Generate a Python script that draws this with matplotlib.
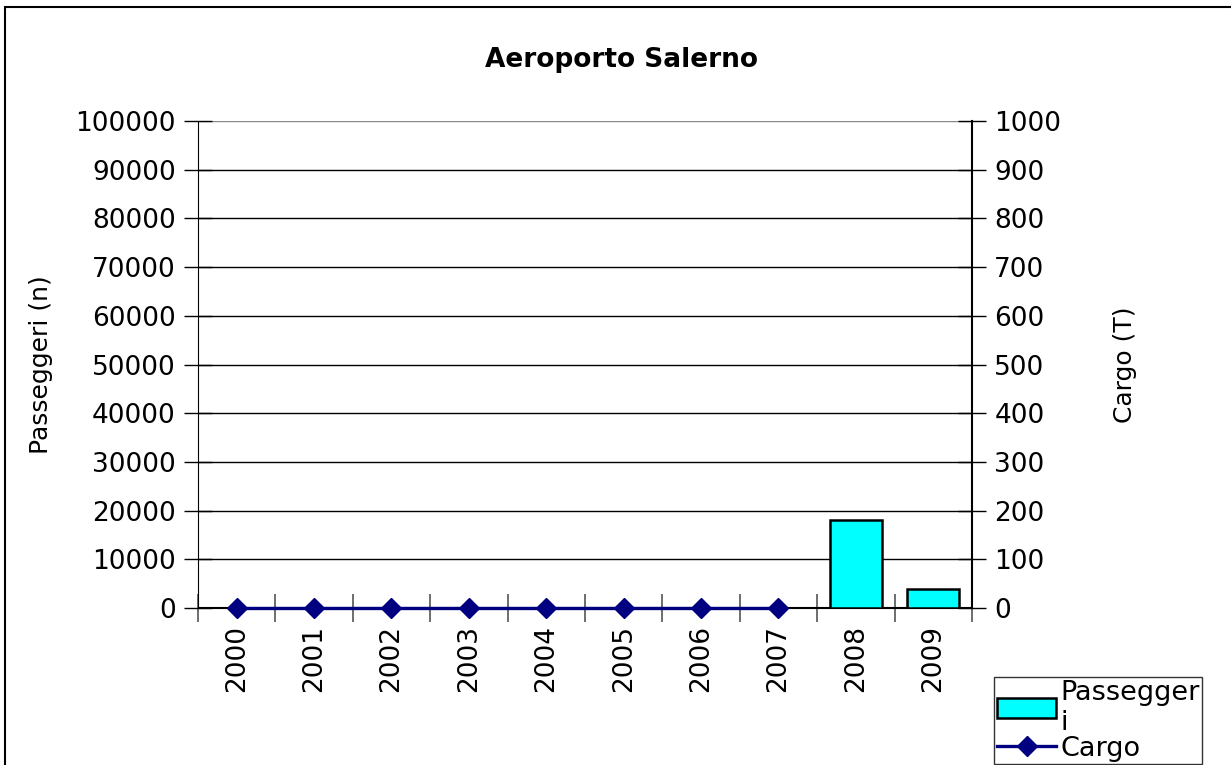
import matplotlib.pyplot as plt
from matplotlib.patches import Rectangle
import numpy as np

years = ['2000', '2001', '2002', '2003', '2004', '2005', '2006', '2007', '2008', '2009']
passeggeri = [0, 0, 0, 0, 0, 0, 0, 0, 18000, 4000]
cargo = [0, 0, 0, 0, 0, 0, 0, 0, None, None]

plt.rcParams['font.family'] = ['DejaVu Sans']

fig = plt.figure(figsize=(12.31, 7.65), dpi=100)
ax = fig.add_axes([0.1608, 0.2052, 0.6288, 0.6366])
x = np.arange(len(years))

# chart border (clipped on right and bottom like the original)
fig.patches.append(Rectangle((5 / 1231, -0.1), 1.1, 1 - 7 / 765 + 0.1, transform=fig.transFigure,
                             fill=False, edgecolor='black', linewidth=1.5))

ax.bar(x, passeggeri, width=0.67, color='#00FFFF', edgecolor='black', linewidth=1.8,
       zorder=3, label='Passegger\ni')
ax.set_xlim(-0.5, len(years) - 0.5)
ax.set_ylim(0, 100000)
ax.set_yticks(np.arange(0, 100001, 10000))
ax.tick_params(axis='y', labelsize=19, direction='inout', length=20, width=1, pad=6)
ax.set_xticks(x)
ax.set_xticklabels(years, rotation=90, fontsize=19)
ax.set_xticks(np.arange(-0.5, len(years), 1), minor=True)
ax.tick_params(axis='x', which='major', length=0, pad=12)
ax.tick_params(axis='x', which='minor', direction='inout', length=20, width=1.2, color='#555555')
ax.grid(axis='y', color='black', linewidth=1, zorder=0)
ax.get_ygridlines()[-1].set_color('#888888')
ax.axhline(0, color='black', linewidth=1.5, zorder=2.5)
ax.spines['top'].set_visible(False)
ax.spines['right'].set_visible(False)
ax.set_ylabel('Passeggeri (n)', fontsize=18, labelpad=16)

ax2 = ax.twinx()
cargo_vals = np.array([np.nan if v is None else v for v in cargo], dtype=float)
ax2.plot(x, cargo_vals, color='#000080', linewidth=2.4, marker='D', markersize=10.5,
         clip_on=False, zorder=4, label='Cargo')
ax2.set_ylim(0, 1000)
ax2.set_yticks(np.arange(0, 1001, 100))
ax2.tick_params(axis='y', labelsize=19, direction='inout', length=20, width=1, pad=6)
ax2.spines['top'].set_visible(False)
ax2.spines['left'].set_visible(False)
ax2.spines['bottom'].set_visible(False)
ax2.spines['right'].set_linewidth(1.5)
ax2.set_ylabel('Cargo (T)', fontsize=18, labelpad=37)

fig.text(0.505, 0.921, 'Aeroporto Salerno', ha='center', va='center',
         fontsize=19, fontweight='bold')

h1, l1 = ax.get_legend_handles_labels()
h2, l2 = ax2.get_legend_handles_labels()
leg = fig.legend(h1 + h2, l1 + l2, loc='upper left', bbox_to_anchor=(994 / 1231, 1 - 677 / 765),
                 fontsize=19.5, frameon=True, fancybox=False, edgecolor='black',
                 borderpad=0.1, labelspacing=0.0, handlelength=2.2, handleheight=0.75,
                 handletextpad=0.15, borderaxespad=0)
leg.get_frame().set_linewidth(1)

fig.savefig('out.png', dpi=100)
